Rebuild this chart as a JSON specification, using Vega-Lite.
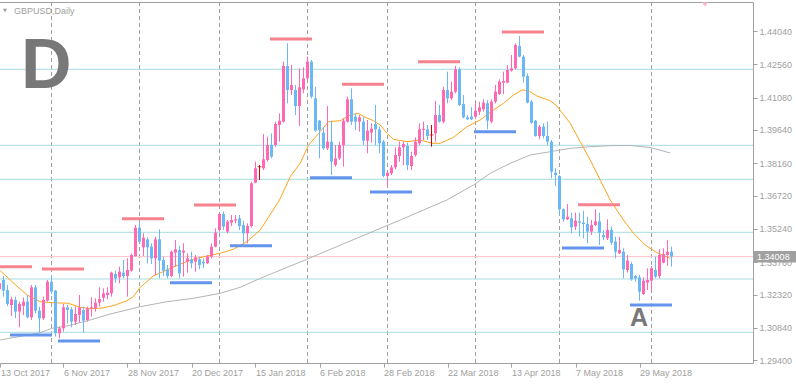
{
  "$schema": "https://vega.github.io/schema/vega-lite/v6.json",
  "width": 753,
  "height": 361,
  "autosize": {"type": "none"},
  "padding": {"left": 0, "top": 2, "right": 43, "bottom": 21},
  "background": "#ffffff",
  "config": {"view": {"stroke": null}, "font": "Liberation Sans", "scale": {"continuousPadding": 0}},
  "resolve": {"axis": {"x": "independent", "y": "independent"}},
  "datasets": {
    "candles": [
      {"i":0,"o":1.32554,"h":1.32895,"l":1.3245,"c":1.32821},
      {"i":1,"o":1.32969,"h":1.33147,"l":1.32228,"c":1.32495},
      {"i":2,"o":1.32524,"h":1.32747,"l":1.31813,"c":1.31902},
      {"i":3,"o":1.31857,"h":1.32228,"l":1.31368,"c":1.32109},
      {"i":4,"o":1.3208,"h":1.32228,"l":1.31265,"c":1.31561},
      {"i":5,"o":1.31561,"h":1.32006,"l":1.30864,"c":1.31902},
      {"i":6,"o":1.31813,"h":1.32198,"l":1.31413,"c":1.32006},
      {"i":7,"o":1.32006,"h":1.32302,"l":1.31265,"c":1.31309},
      {"i":8,"o":1.31309,"h":1.32747,"l":1.3119,"c":1.32643},
      {"i":9,"o":1.32643,"h":1.32747,"l":1.31487,"c":1.31605},
      {"i":10,"o":1.31605,"h":1.31784,"l":1.30627,"c":1.31265},
      {"i":11,"o":1.31265,"h":1.32228,"l":1.3119,"c":1.3208},
      {"i":12,"o":1.3205,"h":1.32969,"l":1.32006,"c":1.32895},
      {"i":13,"o":1.32895,"h":1.33191,"l":1.32347,"c":1.3245},
      {"i":14,"o":1.32495,"h":1.32524,"l":1.3045,"c":1.30598},
      {"i":15,"o":1.30598,"h":1.30894,"l":1.30375,"c":1.3082},
      {"i":16,"o":1.3082,"h":1.31902,"l":1.30672,"c":1.31754},
      {"i":17,"o":1.31754,"h":1.31857,"l":1.31042,"c":1.31635},
      {"i":18,"o":1.31665,"h":1.31754,"l":1.30864,"c":1.31116},
      {"i":19,"o":1.31116,"h":1.31784,"l":1.30968,"c":1.31457},
      {"i":20,"o":1.31413,"h":1.32302,"l":1.31072,"c":1.31754},
      {"i":21,"o":1.31635,"h":1.31784,"l":1.30627,"c":1.31161},
      {"i":22,"o":1.3119,"h":1.31784,"l":1.31116,"c":1.31709},
      {"i":23,"o":1.31695,"h":1.32198,"l":1.31339,"c":1.31754},
      {"i":24,"o":1.31709,"h":1.32154,"l":1.31561,"c":1.31961},
      {"i":25,"o":1.31961,"h":1.32643,"l":1.31784,"c":1.32124},
      {"i":26,"o":1.32183,"h":1.32598,"l":1.32006,"c":1.32376},
      {"i":27,"o":1.32302,"h":1.32643,"l":1.32109,"c":1.32406},
      {"i":28,"o":1.32376,"h":1.33339,"l":1.32228,"c":1.33295},
      {"i":29,"o":1.33236,"h":1.33384,"l":1.3285,"c":1.33043},
      {"i":30,"o":1.33088,"h":1.33562,"l":1.32821,"c":1.33339},
      {"i":31,"o":1.33295,"h":1.33858,"l":1.33043,"c":1.33147},
      {"i":32,"o":1.33147,"h":1.33932,"l":1.32228,"c":1.33414},
      {"i":33,"o":1.33384,"h":1.34155,"l":1.33339,"c":1.34081},
      {"i":34,"o":1.34036,"h":1.35414,"l":1.34006,"c":1.35296},
      {"i":35,"o":1.35296,"h":1.35563,"l":1.34599,"c":1.34673},
      {"i":36,"o":1.34421,"h":1.35044,"l":1.34036,"c":1.34851},
      {"i":37,"o":1.34777,"h":1.34866,"l":1.3371,"c":1.34421},
      {"i":38,"o":1.34451,"h":1.34599,"l":1.3368,"c":1.33932},
      {"i":39,"o":1.33932,"h":1.34896,"l":1.33191,"c":1.34777},
      {"i":40,"o":1.34777,"h":1.35222,"l":1.33043,"c":1.33828},
      {"i":41,"o":1.33858,"h":1.34006,"l":1.33147,"c":1.33384},
      {"i":42,"o":1.33443,"h":1.33636,"l":1.33043,"c":1.33147},
      {"i":43,"o":1.33147,"h":1.34273,"l":1.33088,"c":1.34229},
      {"i":44,"o":1.34184,"h":1.34748,"l":1.33562,"c":1.34333},
      {"i":45,"o":1.34303,"h":1.34481,"l":1.33043,"c":1.33265},
      {"i":46,"o":1.34184,"h":1.34599,"l":1.33117,"c":1.34273},
      {"i":47,"o":1.33784,"h":1.34155,"l":1.33295,"c":1.33932},
      {"i":48,"o":1.33888,"h":1.34229,"l":1.33488,"c":1.3371},
      {"i":49,"o":1.33784,"h":1.34081,"l":1.33339,"c":1.33977},
      {"i":50,"o":1.33888,"h":1.34006,"l":1.33443,"c":1.33636},
      {"i":51,"o":1.33784,"h":1.33932,"l":1.33488,"c":1.3371},
      {"i":52,"o":1.3371,"h":1.34081,"l":1.3368,"c":1.34006},
      {"i":53,"o":1.34006,"h":1.34599,"l":1.33932,"c":1.34451},
      {"i":54,"o":1.34451,"h":1.35266,"l":1.34421,"c":1.35074},
      {"i":55,"o":1.35192,"h":1.35933,"l":1.35118,"c":1.35903},
      {"i":56,"o":1.35903,"h":1.36007,"l":1.35192,"c":1.3534},
      {"i":57,"o":1.35118,"h":1.35637,"l":1.35044,"c":1.35563},
      {"i":58,"o":1.35518,"h":1.35859,"l":1.3537,"c":1.35637},
      {"i":59,"o":1.35607,"h":1.35859,"l":1.35489,"c":1.35666},
      {"i":60,"o":1.35711,"h":1.35859,"l":1.35192,"c":1.3537},
      {"i":61,"o":1.35414,"h":1.35607,"l":1.34599,"c":1.35044},
      {"i":62,"o":1.35044,"h":1.35489,"l":1.34599,"c":1.3537},
      {"i":63,"o":1.3537,"h":1.37341,"l":1.353,"c":1.37267},
      {"i":64,"o":1.37297,"h":1.3823,"l":1.37267,"c":1.37934},
      {"i":65,"o":1.38008,"h":1.38082,"l":1.37415,"c":1.38008},
      {"i":66,"o":1.37934,"h":1.3946,"l":1.3786,"c":1.38334},
      {"i":67,"o":1.38304,"h":1.39342,"l":1.3823,"c":1.38971},
      {"i":68,"o":1.38971,"h":1.3949,"l":1.38378,"c":1.38453},
      {"i":69,"o":1.38971,"h":1.40009,"l":1.38897,"c":1.39905},
      {"i":70,"o":1.39861,"h":1.40379,"l":1.3912,"c":1.40053},
      {"i":71,"o":1.40009,"h":1.42677,"l":1.39964,"c":1.42484},
      {"i":72,"o":1.42484,"h":1.43492,"l":1.40824,"c":1.41417},
      {"i":73,"o":1.41417,"h":1.42528,"l":1.41194,"c":1.41639},
      {"i":74,"o":1.41417,"h":1.41639,"l":1.40305,"c":1.40705},
      {"i":75,"o":1.40705,"h":1.4238,"l":1.39816,"c":1.41535},
      {"i":76,"o":1.41446,"h":1.42425,"l":1.41269,"c":1.41936},
      {"i":77,"o":1.41936,"h":1.42899,"l":1.41861,"c":1.42677},
      {"i":78,"o":1.42677,"h":1.42751,"l":1.41046,"c":1.4112},
      {"i":79,"o":1.41046,"h":1.41565,"l":1.39564,"c":1.39609},
      {"i":80,"o":1.40053,"h":1.40083,"l":1.38378,"c":1.39638},
      {"i":81,"o":1.3952,"h":1.39786,"l":1.38749,"c":1.38823},
      {"i":82,"o":1.38823,"h":1.40705,"l":1.38749,"c":1.3912},
      {"i":83,"o":1.3912,"h":1.40053,"l":1.37637,"c":1.3823},
      {"i":84,"o":1.38082,"h":1.38971,"l":1.38008,"c":1.38378},
      {"i":85,"o":1.38378,"h":1.3912,"l":1.38304,"c":1.38971},
      {"i":86,"o":1.38971,"h":1.40157,"l":1.38008,"c":1.40053},
      {"i":87,"o":1.40009,"h":1.4112,"l":1.39964,"c":1.41002},
      {"i":88,"o":1.41002,"h":1.41491,"l":1.39861,"c":1.40009},
      {"i":89,"o":1.40231,"h":1.40379,"l":1.39638,"c":1.40009},
      {"i":90,"o":1.40009,"h":1.40305,"l":1.39564,"c":1.40201},
      {"i":91,"o":1.40009,"h":1.40201,"l":1.38971,"c":1.39164},
      {"i":92,"o":1.39164,"h":1.40083,"l":1.38601,"c":1.39609},
      {"i":93,"o":1.3952,"h":1.39935,"l":1.39075,"c":1.39698},
      {"i":94,"o":1.39905,"h":1.4075,"l":1.38971,"c":1.39668},
      {"i":95,"o":1.39668,"h":1.39786,"l":1.38601,"c":1.39045},
      {"i":96,"o":1.3912,"h":1.39194,"l":1.37534,"c":1.37593},
      {"i":97,"o":1.37593,"h":1.3786,"l":1.37119,"c":1.37741},
      {"i":98,"o":1.37712,"h":1.38082,"l":1.37637,"c":1.37978},
      {"i":99,"o":1.37978,"h":1.38868,"l":1.37889,"c":1.38527},
      {"i":100,"o":1.38482,"h":1.3912,"l":1.3823,"c":1.38868},
      {"i":101,"o":1.38868,"h":1.3912,"l":1.38082,"c":1.39016},
      {"i":102,"o":1.38927,"h":1.39075,"l":1.3786,"c":1.38082},
      {"i":103,"o":1.38038,"h":1.38675,"l":1.3786,"c":1.38482},
      {"i":104,"o":1.38527,"h":1.39312,"l":1.38453,"c":1.3912},
      {"i":105,"o":1.39045,"h":1.39935,"l":1.38971,"c":1.39668},
      {"i":106,"o":1.39638,"h":1.40009,"l":1.39194,"c":1.39698},
      {"i":107,"o":1.39668,"h":1.39861,"l":1.39194,"c":1.39371},
      {"i":108,"o":1.39416,"h":1.39861,"l":1.38897,"c":1.39416},
      {"i":109,"o":1.3949,"h":1.40942,"l":1.3912,"c":1.40305},
      {"i":110,"o":1.40305,"h":1.4075,"l":1.39964,"c":1.40009},
      {"i":111,"o":1.40009,"h":1.41565,"l":1.39935,"c":1.41417},
      {"i":112,"o":1.41417,"h":1.42232,"l":1.40824,"c":1.41046},
      {"i":113,"o":1.41046,"h":1.41787,"l":1.40972,"c":1.41343},
      {"i":114,"o":1.41343,"h":1.42484,"l":1.41269,"c":1.42336},
      {"i":115,"o":1.42336,"h":1.42425,"l":1.40705,"c":1.4075},
      {"i":116,"o":1.40794,"h":1.41194,"l":1.40157,"c":1.40201},
      {"i":117,"o":1.40201,"h":1.40305,"l":1.40083,"c":1.40113},
      {"i":118,"o":1.40231,"h":1.40646,"l":1.40083,"c":1.40112},
      {"i":119,"o":1.40231,"h":1.40824,"l":1.40112,"c":1.40498},
      {"i":120,"o":1.40453,"h":1.40898,"l":1.40305,"c":1.40646},
      {"i":121,"o":1.40557,"h":1.41002,"l":1.40453,"c":1.40854},
      {"i":122,"o":1.40824,"h":1.40972,"l":1.39668,"c":1.40053},
      {"i":123,"o":1.40009,"h":1.41002,"l":1.39935,"c":1.40898},
      {"i":124,"o":1.40898,"h":1.41639,"l":1.40824,"c":1.41343},
      {"i":125,"o":1.41239,"h":1.41891,"l":1.41194,"c":1.41787},
      {"i":126,"o":1.41743,"h":1.42232,"l":1.41239,"c":1.41817},
      {"i":127,"o":1.41743,"h":1.42528,"l":1.41713,"c":1.42306},
      {"i":128,"o":1.42276,"h":1.42973,"l":1.42232,"c":1.4238},
      {"i":129,"o":1.4238,"h":1.43492,"l":1.42336,"c":1.43418},
      {"i":130,"o":1.43373,"h":1.43818,"l":1.42869,"c":1.42899},
      {"i":131,"o":1.42899,"h":1.42973,"l":1.41743,"c":1.4201},
      {"i":132,"o":1.42039,"h":1.42158,"l":1.40824,"c":1.40854},
      {"i":133,"o":1.40898,"h":1.40972,"l":1.39905,"c":1.39964},
      {"i":134,"o":1.40053,"h":1.40083,"l":1.39342,"c":1.39371},
      {"i":135,"o":1.39371,"h":1.39861,"l":1.39223,"c":1.39786},
      {"i":136,"o":1.39786,"h":1.39935,"l":1.39268,"c":1.39371},
      {"i":137,"o":1.39371,"h":1.40009,"l":1.38971,"c":1.39119},
      {"i":138,"o":1.39119,"h":1.39194,"l":1.37489,"c":1.37786},
      {"i":139,"o":1.37741,"h":1.37934,"l":1.37148,"c":1.37637},
      {"i":140,"o":1.37593,"h":1.37637,"l":1.35859,"c":1.36111},
      {"i":141,"o":1.36111,"h":1.36155,"l":1.35562,"c":1.35666},
      {"i":142,"o":1.35666,"h":1.36348,"l":1.35637,"c":1.35785},
      {"i":143,"o":1.35711,"h":1.35963,"l":1.35044,"c":1.3531},
      {"i":144,"o":1.3534,"h":1.35963,"l":1.35192,"c":1.35607},
      {"i":145,"o":1.35577,"h":1.35963,"l":1.34895,"c":1.35518},
      {"i":146,"o":1.35518,"h":1.36052,"l":1.34821,"c":1.35459},
      {"i":147,"o":1.35459,"h":1.35785,"l":1.34599,"c":1.35118},
      {"i":148,"o":1.35118,"h":1.35637,"l":1.3497,"c":1.35414},
      {"i":149,"o":1.35414,"h":1.36111,"l":1.3537,"c":1.35577},
      {"i":150,"o":1.35577,"h":1.35963,"l":1.34525,"c":1.35073},
      {"i":151,"o":1.3497,"h":1.35192,"l":1.34747,"c":1.34866},
      {"i":152,"o":1.34821,"h":1.35666,"l":1.34747,"c":1.35192},
      {"i":153,"o":1.35192,"h":1.3534,"l":1.34525,"c":1.34629},
      {"i":154,"o":1.34673,"h":1.34895,"l":1.33932,"c":1.34228},
      {"i":155,"o":1.34154,"h":1.34895,"l":1.34125,"c":1.34302},
      {"i":156,"o":1.34228,"h":1.34377,"l":1.33043,"c":1.33443},
      {"i":157,"o":1.33413,"h":1.3408,"l":1.33295,"c":1.33828},
      {"i":158,"o":1.3368,"h":1.33784,"l":1.32939,"c":1.32998},
      {"i":159,"o":1.33146,"h":1.33191,"l":1.32894,"c":1.33043},
      {"i":160,"o":1.33087,"h":1.33191,"l":1.3205,"c":1.3245},
      {"i":161,"o":1.32346,"h":1.33087,"l":1.32302,"c":1.32939},
      {"i":162,"o":1.3285,"h":1.33487,"l":1.32524,"c":1.32969},
      {"i":163,"o":1.32939,"h":1.33591,"l":1.3245,"c":1.33487},
      {"i":164,"o":1.33413,"h":1.34006,"l":1.33043,"c":1.33117},
      {"i":165,"o":1.33146,"h":1.34332,"l":1.33043,"c":1.3408},
      {"i":166,"o":1.33739,"h":1.34377,"l":1.3371,"c":1.34125},
      {"i":167,"o":1.3408,"h":1.34747,"l":1.33591,"c":1.34228},
      {"i":168,"o":1.34228,"h":1.34451,"l":1.33561,"c":1.34008}
    ],
    "maFast": [
      {"i":0.18,"p":1.33382},{"i":2.68,"p":1.32969},{"i":6.85,"p":1.32302},{"i":10.18,"p":1.32004},
      {"i":13.1,"p":1.31959},{"i":17.18,"p":1.31933},{"i":20.18,"p":1.31755},{"i":22.68,"p":1.31692},
      {"i":25.93,"p":1.31724},{"i":28.93,"p":1.31857},{"i":31.85,"p":1.32048},{"i":33.43,"p":1.32226},
      {"i":35.18,"p":1.32644},{"i":38.43,"p":1.33146},{"i":41.85,"p":1.33413},{"i":45.18,"p":1.3368},
      {"i":48.43,"p":1.33889},{"i":51.85,"p":1.34036},{"i":55.18,"p":1.34156},{"i":58.43,"p":1.34334},
      {"i":61.85,"p":1.34671},{"i":65.18,"p":1.35192},{"i":70,"p":1.36526},{"i":72.68,"p":1.37562},
      {"i":75.18,"p":1.38157},{"i":77.25,"p":1.38971},{"i":80.18,"p":1.39563},{"i":82.25,"p":1.40007},
      {"i":85.18,"p":1.40052},{"i":87.68,"p":1.40305},{"i":89.75,"p":1.40381},{"i":91.43,"p":1.40203},
      {"i":93.5,"p":1.40052},{"i":95.18,"p":1.3986},{"i":96.85,"p":1.39491},{"i":98.5,"p":1.39225},
      {"i":101.85,"p":1.39118},{"i":105.18,"p":1.39193},{"i":108.1,"p":1.39047},{"i":110.18,"p":1.39047},
      {"i":113.5,"p":1.39313},{"i":116.85,"p":1.39785},{"i":120.18,"p":1.40083},{"i":123.5,"p":1.40527},
      {"i":126,"p":1.40825},{"i":128.5,"p":1.41194},{"i":130.6,"p":1.41417},{"i":132.25,"p":1.41386},
      {"i":134.35,"p":1.4115},{"i":137.68,"p":1.40941},{"i":139.35,"p":1.40705},{"i":142.68,"p":1.39936},
      {"i":145.18,"p":1.39118},{"i":147.68,"p":1.38304},{"i":150.18,"p":1.37415},{"i":152.68,"p":1.36526},
      {"i":153.5,"p":1.36303},{"i":156,"p":1.35636},{"i":158.5,"p":1.35045},{"i":161.43,"p":1.34525},
      {"i":164.35,"p":1.34182},{"i":167.68,"p":1.33933}
    ],
    "maSlow": [
      {"i":0.18,"p":1.30301},{"i":10.18,"p":1.30625},{"i":13.1,"p":1.30821},{"i":16.85,"p":1.30923},
      {"i":22.68,"p":1.3119},{"i":27.68,"p":1.31457},{"i":35.18,"p":1.31781},{"i":41.85,"p":1.32004},
      {"i":48.5,"p":1.32155},{"i":55.18,"p":1.32377},{"i":60.18,"p":1.32644},{"i":65.18,"p":1.33044},
      {"i":75.18,"p":1.33769},{"i":87.68,"p":1.34703},{"i":100.18,"p":1.35636},{"i":111.85,"p":1.36526},
      {"i":118.5,"p":1.37193},{"i":122.68,"p":1.37713},{"i":127.68,"p":1.38157},{"i":132.68,"p":1.38527},
      {"i":137.68,"p":1.38673},{"i":142.68,"p":1.38824},{"i":147.68,"p":1.38896},{"i":152.68,"p":1.3894},
      {"i":157.68,"p":1.38949},{"i":162.68,"p":1.3886},{"i":167.68,"p":1.38615}
    ],
    "levels": [
      {"a":-1,"b":8.125,"p":1.3356,"kind":"resistance"},
      {"a":10.625,"b":21.125,"p":1.33458,"kind":"resistance"},
      {"a":2.625,"b":13.125,"p":1.30523,"kind":"support"},
      {"a":14.625,"b":25.125,"p":1.30256,"kind":"support"},
      {"a":30.625,"b":41.125,"p":1.35694,"kind":"resistance"},
      {"a":42.625,"b":53.125,"p":1.32848,"kind":"support"},
      {"a":48.625,"b":59.125,"p":1.36303,"kind":"resistance"},
      {"a":57.625,"b":68.125,"p":1.34494,"kind":"support"},
      {"a":67.625,"b":78.125,"p":1.43684,"kind":"resistance"},
      {"a":77.625,"b":88.125,"p":1.37517,"kind":"support"},
      {"a":85.625,"b":96.125,"p":1.4167,"kind":"resistance"},
      {"a":92.625,"b":103.125,"p":1.36881,"kind":"support"},
      {"a":104.625,"b":115.125,"p":1.42675,"kind":"resistance"},
      {"a":118.625,"b":129.125,"p":1.39563,"kind":"support"},
      {"a":125.625,"b":136.125,"p":1.43996,"kind":"resistance"},
      {"a":140.625,"b":151.125,"p":1.34391,"kind":"support"},
      {"a":144.625,"b":155.125,"p":1.36317,"kind":"resistance"},
      {"a":157.625,"b":168.125,"p":1.31857,"kind":"support"}
    ],
    "hlines": [{"p":1.42337},{"p":1.38958},{"p":1.37446},{"p":1.35089},{"p":1.33013},{"p":1.30643}],
    "vlines": [{"i":13},{"i":35},{"i":55},{"i":77},{"i":97},{"i":119},{"i":140},{"i":163}]
  },
  "layer": [
    {
      "data": {"name": "vlines"},
      "mark": {"type": "rule", "color": "#a0a0a0", "strokeWidth": 1, "strokeDash": [4, 3]},
      "encoding": {
        "x": {"field": "i", "type": "quantitative", "title": null,
          "scale": {"domain": [0.125, 188.375], "nice": false, "zero": false, "padding": 0},
          "axis": {"orient": "bottom", "title": null, "grid": false,
            "values": [0.25, 16, 32, 48, 64, 80, 96, 112, 128, 144, 160],
            "labelExpr": "['13 Oct 2017','6 Nov 2017','28 Nov 2017','20 Dec 2017','15 Jan 2018','6 Feb 2018','28 Feb 2018','22 Mar 2018','13 Apr 2018','7 May 2018','29 May 2018'][round(datum.value/16)]",
            "labelAlign": "left", "labelDx": -1, "tickSize": 4, "labelPadding": 1, "labelFlush": false, "labelOverlap": false,
            "domainColor": "#a0a0a0", "tickColor": "#a0a0a0", "labelColor": "#a0a0a0",
            "labelFont": "Liberation Sans", "labelFontSize": 9}}
      }
    },
    {
      "data": {"name": "hlines"},
      "mark": {"type": "rule", "color": "#a6dde1", "strokeWidth": 1},
      "encoding": {
        "y": {"field": "p", "type": "quantitative", "title": null,
          "scale": {"domain": [1.29278, 1.453295], "nice": false, "zero": false, "padding": 0},
          "axis": {"orient": "right", "title": null, "grid": false, "labelOverlap": false, "labelBound": false,
            "values": [1.294, 1.3084, 1.3232, 1.3376, 1.3524, 1.3672, 1.3816, 1.3964, 1.4108, 1.4256, 1.4404],
            "format": ".5f", "tickSize": 4, "labelPadding": 2, "domainColor": "#a0a0a0", "tickColor": "#a0a0a0",
            "labelColor": "#a0a0a0", "labelFont": "Liberation Sans", "labelFontSize": 9, "labelBaseline": "middle"}}
      }
    },
    {
      "data": {"values": [{"p": 1.34008}]},
      "mark": {"type": "rule", "color": "#ffc0cb", "strokeWidth": 1},
      "encoding": {"y": {"field": "p", "type": "quantitative", "axis": null, "scale": {"domain": [1.29278, 1.453295], "nice": false, "zero": false, "padding": 0}}}
    },
    {
      "data": {"values": [{"p": 1.453073}]},
      "mark": {"type": "rule", "color": "#a0a0a0", "strokeWidth": 1},
      "encoding": {"y": {"field": "p", "type": "quantitative", "axis": null, "scale": {"domain": [1.29278, 1.453295], "nice": false, "zero": false, "padding": 0}}}
    },
    {
      "data": {"name": "maSlow"},
      "mark": {"type": "line", "color": "#b4b4b4", "strokeWidth": 1},
      "encoding": {
        "x": {"field": "i", "type": "quantitative", "axis": null, "scale": {"domain": [0.125, 188.375], "nice": false, "zero": false, "padding": 0}},
        "y": {"field": "p", "type": "quantitative", "axis": null, "scale": {"domain": [1.29278, 1.453295], "nice": false, "zero": false, "padding": 0}}
      }
    },
    {
      "data": {"name": "maFast"},
      "mark": {"type": "line", "color": "#ffa31a", "strokeWidth": 1},
      "encoding": {
        "x": {"field": "i", "type": "quantitative", "axis": null, "scale": {"domain": [0.125, 188.375], "nice": false, "zero": false, "padding": 0}},
        "y": {"field": "p", "type": "quantitative", "axis": null, "scale": {"domain": [1.29278, 1.453295], "nice": false, "zero": false, "padding": 0}}
      }
    },
    {
      "data": {"name": "candles"},
      "mark": {"type": "rule", "strokeWidth": 1},
      "encoding": {
        "x": {"field": "i", "type": "quantitative", "axis": null, "scale": {"domain": [0.125, 188.375], "nice": false, "zero": false, "padding": 0}},
        "y": {"field": "l", "type": "quantitative", "axis": null, "scale": {"domain": [1.29278, 1.453295], "nice": false, "zero": false, "padding": 0}},
        "y2": {"field": "h"},
        "color": {"condition": [{"test": "datum.c == datum.o", "value": "#d40000"}, {"test": "datum.c > datum.o", "value": "#ff69b4"}], "value": "#6cb8f6"}
      }
    },
    {
      "data": {"name": "candles"},
      "transform": [{"filter": "datum.c != datum.o"}],
      "mark": {"type": "bar", "size": 3, "orient": "vertical"},
      "encoding": {
        "x": {"field": "i", "type": "quantitative", "axis": null, "scale": {"domain": [0.125, 188.375], "nice": false, "zero": false, "padding": 0}},
        "y": {"field": "o", "type": "quantitative", "axis": null, "scale": {"domain": [1.29278, 1.453295], "nice": false, "zero": false, "padding": 0}},
        "y2": {"field": "c"},
        "color": {"condition": {"test": "datum.c > datum.o", "value": "#ff69b4"}, "value": "#6cb8f6"}
      }
    },
    {
      "data": {"name": "candles"},
      "transform": [{"filter": "datum.c == datum.o"}],
      "mark": {"type": "tick", "orient": "horizontal", "size": 4, "thickness": 1, "color": "#d40000"},
      "encoding": {
        "x": {"field": "i", "type": "quantitative", "axis": null, "scale": {"domain": [0.125, 188.375], "nice": false, "zero": false, "padding": 0}},
        "y": {"field": "o", "type": "quantitative", "axis": null, "scale": {"domain": [1.29278, 1.453295], "nice": false, "zero": false, "padding": 0}}
      }
    },
    {
      "data": {"name": "levels"},
      "mark": {"type": "rule", "strokeWidth": 3},
      "encoding": {
        "x": {"field": "a", "type": "quantitative", "axis": null, "scale": {"domain": [0.125, 188.375], "nice": false, "zero": false, "padding": 0}},
        "x2": {"field": "b"},
        "y": {"field": "p", "type": "quantitative", "axis": null, "scale": {"domain": [1.29278, 1.453295], "nice": false, "zero": false, "padding": 0}},
        "color": {"field": "kind", "type": "nominal", "legend": null,
          "scale": {"domain": ["resistance", "support"], "range": ["#f4838e", "#6495ed"]}}
      }
    },
    {
      "data": {"values": [{"i": 5.375, "p": 1.415056, "t": "D"}]},
      "mark": {"type": "text", "align": "left", "baseline": "alphabetic", "font": "Liberation Sans", "fontWeight": "bold", "fontSize": 70, "color": "#787878"},
      "encoding": {
        "x": {"field": "i", "type": "quantitative", "axis": null, "scale": {"domain": [0.125, 188.375], "nice": false, "zero": false, "padding": 0}},
        "y": {"field": "p", "type": "quantitative", "axis": null, "scale": {"domain": [1.29278, 1.453295], "nice": false, "zero": false, "padding": 0}},
        "text": {"field": "t"}
      }
    },
    {
      "data": {"values": [{"i": 159.875, "p": 1.309231, "t": "A"}]},
      "mark": {"type": "text", "align": "center", "baseline": "alphabetic", "font": "Liberation Sans", "fontWeight": "bold", "fontSize": 25, "color": "#787878"},
      "encoding": {
        "x": {"field": "i", "type": "quantitative", "axis": null, "scale": {"domain": [0.125, 188.375], "nice": false, "zero": false, "padding": 0}},
        "y": {"field": "p", "type": "quantitative", "axis": null, "scale": {"domain": [1.29278, 1.453295], "nice": false, "zero": false, "padding": 0}},
        "text": {"field": "t"}
      }
    },
    {
      "data": {"values": [{"i": 3.625, "p": 1.449426, "t": "GBPUSD,Daily"}]},
      "mark": {"type": "text", "align": "left", "baseline": "middle", "font": "Liberation Sans", "fontSize": 9, "color": "#a0a0a0"},
      "encoding": {
        "x": {"field": "i", "type": "quantitative", "axis": null, "scale": {"domain": [0.125, 188.375], "nice": false, "zero": false, "padding": 0}},
        "y": {"field": "p", "type": "quantitative", "axis": null, "scale": {"domain": [1.29278, 1.453295], "nice": false, "zero": false, "padding": 0}},
        "text": {"field": "t"}
      }
    },
    {
      "data": {"values": [{"i": 1.375, "p": 1.449515, "k": "menu"}]},
      "mark": {"type": "point", "shape": "triangle-down", "filled": true, "size": 18, "color": "#a0a0a0", "opacity": 1},
      "encoding": {
        "x": {"field": "i", "type": "quantitative", "axis": null, "scale": {"domain": [0.125, 188.375], "nice": false, "zero": false, "padding": 0}},
        "y": {"field": "p", "type": "quantitative", "axis": null, "scale": {"domain": [1.29278, 1.453295], "nice": false, "zero": false, "padding": 0}}
      }
    },
    {
      "data": {"values": [{"i": 176.375, "p": 1.452183, "k": "marker"}]},
      "mark": {"type": "point", "shape": "triangle-down", "filled": true, "size": 30, "color": "#f7b6c6", "opacity": 1},
      "encoding": {
        "x": {"field": "i", "type": "quantitative", "axis": null, "scale": {"domain": [0.125, 188.375], "nice": false, "zero": false, "padding": 0}},
        "y": {"field": "p", "type": "quantitative", "axis": null, "scale": {"domain": [1.29278, 1.453295], "nice": false, "zero": false, "padding": 0}}
      }
    },
    {
      "data": {"values": [{"a": 188.625, "b": 199.125, "p1": 1.342579, "p2": 1.337466}]},
      "mark": {"type": "rect", "color": "#a0a0a0", "opacity": 1},
      "encoding": {
        "x": {"field": "a", "type": "quantitative", "axis": null, "scale": {"domain": [0.125, 188.375], "nice": false, "zero": false, "padding": 0}},
        "x2": {"field": "b"},
        "y": {"field": "p1", "type": "quantitative", "axis": null, "scale": {"domain": [1.29278, 1.453295], "nice": false, "zero": false, "padding": 0}},
        "y2": {"field": "p2"}
      }
    },
    {
      "data": {"values": [{"i": 189.4, "p": 1.340046, "t": "1.34008"}]},
      "mark": {"type": "text", "align": "left", "baseline": "middle", "font": "Liberation Sans", "fontSize": 9, "color": "#ffffff"},
      "encoding": {
        "x": {"field": "i", "type": "quantitative", "axis": null, "scale": {"domain": [0.125, 188.375], "nice": false, "zero": false, "padding": 0}},
        "y": {"field": "p", "type": "quantitative", "axis": null, "scale": {"domain": [1.29278, 1.453295], "nice": false, "zero": false, "padding": 0}},
        "text": {"field": "t"}
      }
    }
  ]
}
